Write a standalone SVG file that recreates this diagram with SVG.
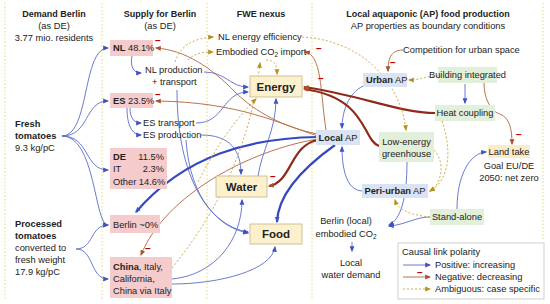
<svg xmlns="http://www.w3.org/2000/svg" width="550" height="304" viewBox="0 0 550 304">
<style>
text{font-family:"Liberation Sans",Arial,sans-serif;font-size:9.3px;fill:#222}
.b{font-weight:bold}
.h{font-weight:bold;font-size:9px}
.big{font-weight:bold;font-size:11.5px;text-anchor:middle}
.m{text-anchor:middle}
.sep{stroke:#e3dc7a;stroke-width:1;stroke-dasharray:1.5 2;fill:none}
.pink{fill:#f6cbcb}
.fwe{fill:#fdf1cd;stroke:#c2b58a;stroke-width:0.8}
.blue{fill:#dae3f3}
.green{fill:#e2efda}
.pb{fill:none;stroke:#5a6ccb;stroke-width:0.9;marker-end:url(#mb)}
.pB{fill:none;stroke:#3449bd;stroke-width:2.2;marker-end:url(#mb)}
.nb{fill:none;stroke:#b8744f;stroke-width:1;marker-end:url(#mr)}
.nB{fill:none;stroke:#8e2a18;stroke-width:2.2;marker-end:url(#mr)}
.am{fill:none;stroke:#c9a33c;stroke-width:0.9;stroke-dasharray:2 2;marker-end:url(#ma)}
.minus{fill:#c00000;font-weight:bold;font-size:10px}
</style>
<defs>
<marker id="mb" viewBox="0 0 10 10" refX="8" refY="5" markerWidth="6" markerHeight="6" markerUnits="userSpaceOnUse" orient="auto"><path d="M0,1 L10,5 L0,9 z" fill="#3d52c4"/></marker>
<marker id="mr" viewBox="0 0 10 10" refX="8" refY="5" markerWidth="6" markerHeight="6" markerUnits="userSpaceOnUse" orient="auto"><path d="M0,1 L10,5 L0,9 z" fill="#b0502a"/></marker>
<marker id="ma" viewBox="0 0 10 10" refX="8" refY="5" markerWidth="6" markerHeight="6" markerUnits="userSpaceOnUse" orient="auto"><path d="M0,1 L10,5 L0,9 z" fill="#b8901e"/></marker>
</defs>
<rect width="550" height="304" fill="#fff"/>
<g id="separators">
<line class="sep" x1="5" y1="3" x2="5" y2="300"/>
<line class="sep" x1="102" y1="3" x2="102" y2="300"/>
<line class="sep" x1="207" y1="3" x2="207" y2="300"/>
<line class="sep" x1="312" y1="3" x2="312" y2="300"/>
<line class="sep" x1="543" y1="3" x2="543" y2="240"/>
</g>
<g id="headers">
<text class="h m" x="54" y="17">Demand Berlin</text>
<text class="m" x="54" y="29">(as DE)</text>
<text class="m" x="54" y="41">3.77 mio. residents</text>
<text class="h m" x="160" y="17">Supply for Berlin</text>
<text class="m" x="160" y="29">(as DE)</text>
<text class="h m" x="261" y="17">FWE nexus</text>
<text class="h m" x="428" y="17">Local aquaponic (AP) food production</text>
<text class="m" x="428" y="29">AP properties as boundary conditions</text>
</g>
<g id="connectors">
<path class="pb" d="M62,136 C90,136 82,48 108,48"/>
<path class="pb" d="M62,136 C90,136 84,101 108,101"/>
<path class="pb" d="M62,136 C90,136 84,170 108,170"/>
<path class="pb" d="M62,136 C96,136 94,225 108,225"/>
<path class="pb" d="M76,249 C94,249 90,225 108,225"/>
<path class="pb" d="M76,249 C94,249 90,279 108,279"/>
<path class="pb" d="M132,56 C130,66 133,73 141,73"/>
<path class="pb" d="M130,108 C130,118 134,123 141,123"/>
<path class="pb" d="M127,108 C127,125 132,135 141,135"/>
<path class="pb" d="M204,72 C226,72 230,87 248,87"/>
<path class="pb" d="M196,123 C225,123 222,92 248,92"/>
<path class="pb" d="M201,135 C230,135 241,150 241,174"/>
<path class="pb" d="M177,90 C177,180 210,226 248,232"/>
<path class="pb" d="M186,140 C190,200 220,228 248,233"/>
<path class="pb" d="M172,279 C215,275 242,240 242,200"/>
<path class="pb" d="M172,284 C220,284 272,270 275,247"/>
<path class="pb" d="M258,176 C262,150 276,130 276,99"/>
<path class="pB" d="M318,137 C250,138 185,155 136,212"/>
<path class="pB" d="M335,145 C300,170 278,195 277,222"/>
<path class="pb" d="M366,85 C350,90 342,110 342,128"/>
<path class="pb" d="M362,191 C345,190 342,165 342,147"/>
<path class="pb" d="M465,84 C465,92 465,97 465,103"/>
<path class="pb" d="M407,162 C407,200 400,220 389,225"/>
<path class="pb" d="M430,217 C415,217 405,225 389,226"/>
<path class="pb" d="M457,209 C457,175 470,153 486,152"/>
<path class="pb" d="M352,242 L352,251"/>
<path class="nb" d="M318,134 C285,128 255,112 235,92 C212,68 185,50 156,48"/>
<path class="nb" d="M318,136 C280,124 240,102 156,101"/>
<path class="nb" d="M318,139 C250,150 165,195 141,255"/>
<path class="nb" d="M326,130 C320,90 322,55 305,52"/>
<path class="nb" d="M403,50 C390,50 388,60 388,71"/>
<path class="nb" d="M484,83 C484,100 492,112 500,114 C510,118 512,130 512,144"/>
<path class="nB" d="M435,113 C400,113 360,95 304,87"/>
<path class="nB" d="M379,146 C362,140 368,98 304,89"/>
<path class="nB" d="M318,140 C290,145 292,182 269,186"/>
<path class="am" d="M175,62 C180,45 195,38 213,37"/>
<path class="am" d="M188,60 C195,53 203,52 213,52"/>
<path class="am" d="M302,37 C360,40 400,80 406,130"/>
<path class="am" d="M172,268 C215,215 250,150 260,63"/>
<path class="am" d="M266,60 C275,60 277,65 277,74"/>
<path class="am" d="M198,182 C214,150 236,118 256,99"/>
<path class="am" d="M438,76 C425,76 420,80 409,80"/>
<path class="am" d="M442,121 C452,150 450,180 430,191"/>
<path class="am" d="M434,150 C444,160 444,182 430,191"/>
<path class="am" d="M430,217 C410,215 398,210 395,200"/>
</g>
<g id="minus-signs">
<text class="minus" x="155" y="44">–</text>
<text class="minus" x="155" y="98">–</text>
<text class="minus" x="145" y="252">–</text>
<text class="minus" x="316" y="52">–</text>
<text class="minus" x="318" y="82">–</text>
<text class="minus" x="270" y="180">–</text>
<text class="minus" x="390" y="66">–</text>
<text class="minus" x="516" y="138">–</text>
</g>
<g id="demand-fresh">
<text class="b" x="15" y="127">Fresh</text>
<text class="b" x="15" y="139">tomatoes</text>
<text x="15" y="151">9.3 kg/pC</text>
</g>
<g id="demand-processed">
<text class="b" x="15" y="227">Processed</text>
<text class="b" x="15" y="239">tomatoes</text>
<text x="15" y="251">converted to</text>
<text x="15" y="263">fresh weight</text>
<text x="15" y="275">17.9 kg/pC</text>
</g>
<g id="supply-nl"><rect class="pink" x="110" y="40" width="43" height="16"/><text x="113" y="51"><tspan class="b">NL</tspan> 48.1%</text></g>
<g id="supply-es"><rect class="pink" x="110" y="93" width="43" height="15"/><text x="113" y="104"><tspan class="b">ES</tspan> 23.5%</text></g>
<g id="supply-de"><rect class="pink" x="110" y="148" width="57" height="41"/>
<text class="b" x="113" y="160">DE</text><text x="164" y="160" text-anchor="end">11.5%</text>
<text x="113" y="172">IT</text><text x="164" y="172" text-anchor="end">2.3%</text>
<text x="113" y="185">Other 14.6%</text></g>
<g id="supply-berlin"><rect class="pink" x="110" y="215" width="50" height="18"/><text x="113" y="228">Berlin  ~0%</text></g>
<g id="supply-china"><rect class="pink" x="110" y="257" width="62" height="41"/>
<text x="113" y="270"><tspan class="b">China</tspan>, Italy,</text>
<text x="113" y="282">California,</text>
<text x="113" y="294">China via Italy</text></g>
<g id="nl-production"><text x="145" y="73">NL production</text><text x="152" y="85">+ transport</text></g>
<g id="es-transport"><text x="143" y="126">ES transport</text></g>
<g id="es-production"><text x="143" y="138">ES production</text></g>
<g id="nl-energy-efficiency"><text x="218" y="40">NL energy efficiency</text></g>
<g id="embodied-co2-import"><text x="216" y="55">Embodied CO<tspan font-size="6.5" dy="2">2</tspan><tspan dy="-2"> import</tspan></text></g>
<g id="energy"><rect class="fwe" x="250" y="76" width="52" height="21"/><text class="big" x="276" y="91">Energy</text></g>
<g id="water"><rect class="fwe" x="216" y="176" width="51" height="21"/><text class="big" x="241.5" y="191">Water</text></g>
<g id="food"><rect class="fwe" x="250" y="224" width="52" height="20"/><text class="big" x="276" y="238">Food</text></g>
<g id="competition"><text x="403" y="53">Competition for urban space</text></g>
<g id="urban-ap"><rect class="blue" x="363" y="73" width="44" height="14"/><text x="366" y="83"><tspan class="b">Urban</tspan> AP</text></g>
<g id="building-integrated"><rect class="green" x="438" y="67" width="59" height="16"/><text class="m" x="467.5" y="78">Building integrated</text></g>
<g id="heat-coupling"><rect class="green" x="435" y="105" width="60" height="16"/><text class="m" x="465" y="116">Heat coupling</text></g>
<g id="local-ap"><rect class="blue" x="316" y="130" width="44" height="15"/><text class="m" x="338" y="141"><tspan class="b">Local</tspan> AP</text></g>
<g id="low-energy-greenhouse"><rect class="green" x="379" y="132" width="55" height="30"/><text class="m" x="406.5" y="145">Low-energy</text><text class="m" x="406.5" y="157">greenhouse</text></g>
<g id="land-take"><rect fill="#fdeac6" x="488" y="145" width="42" height="13"/><text class="m" x="509" y="155">Land take</text><text class="m" x="509" y="169">Goal EU/DE</text><text class="m" x="509" y="181">2050: net zero</text></g>
<g id="peri-urban-ap"><rect class="blue" x="362" y="184" width="66" height="14"/><text class="m" x="395" y="194"><tspan class="b">Peri-urban</tspan> AP</text></g>
<g id="stand-alone"><rect class="green" x="430" y="209" width="54" height="16"/><text class="m" x="457" y="220">Stand-alone</text></g>
<g id="berlin-embodied"><text class="m" x="346" y="224">Berlin (local)</text><text class="m" x="346" y="237">embodied CO<tspan font-size="6.5" dy="2">2</tspan></text></g>
<g id="local-water"><text class="m" x="351" y="266">Local</text><text class="m" x="351" y="278">water demand</text></g>
<g id="legend">
<rect x="398" y="243" width="146" height="56" fill="#fff" stroke="#c4c4c4" stroke-width="0.8"/>
<text x="402" y="255">Causal link polarity</text>
<path class="pb" d="M403,265 L430,265"/>
<path class="nb" d="M403,277 L430,277"/>
<text class="minus" x="417" y="276">–</text>
<path class="am" d="M403,289 L430,289"/>
<text x="435" y="268">Positive: increasing</text>
<text x="435" y="280">Negative: decreasing</text>
<text x="435" y="292">Ambiguous: case specific</text>
</g>
</svg>
